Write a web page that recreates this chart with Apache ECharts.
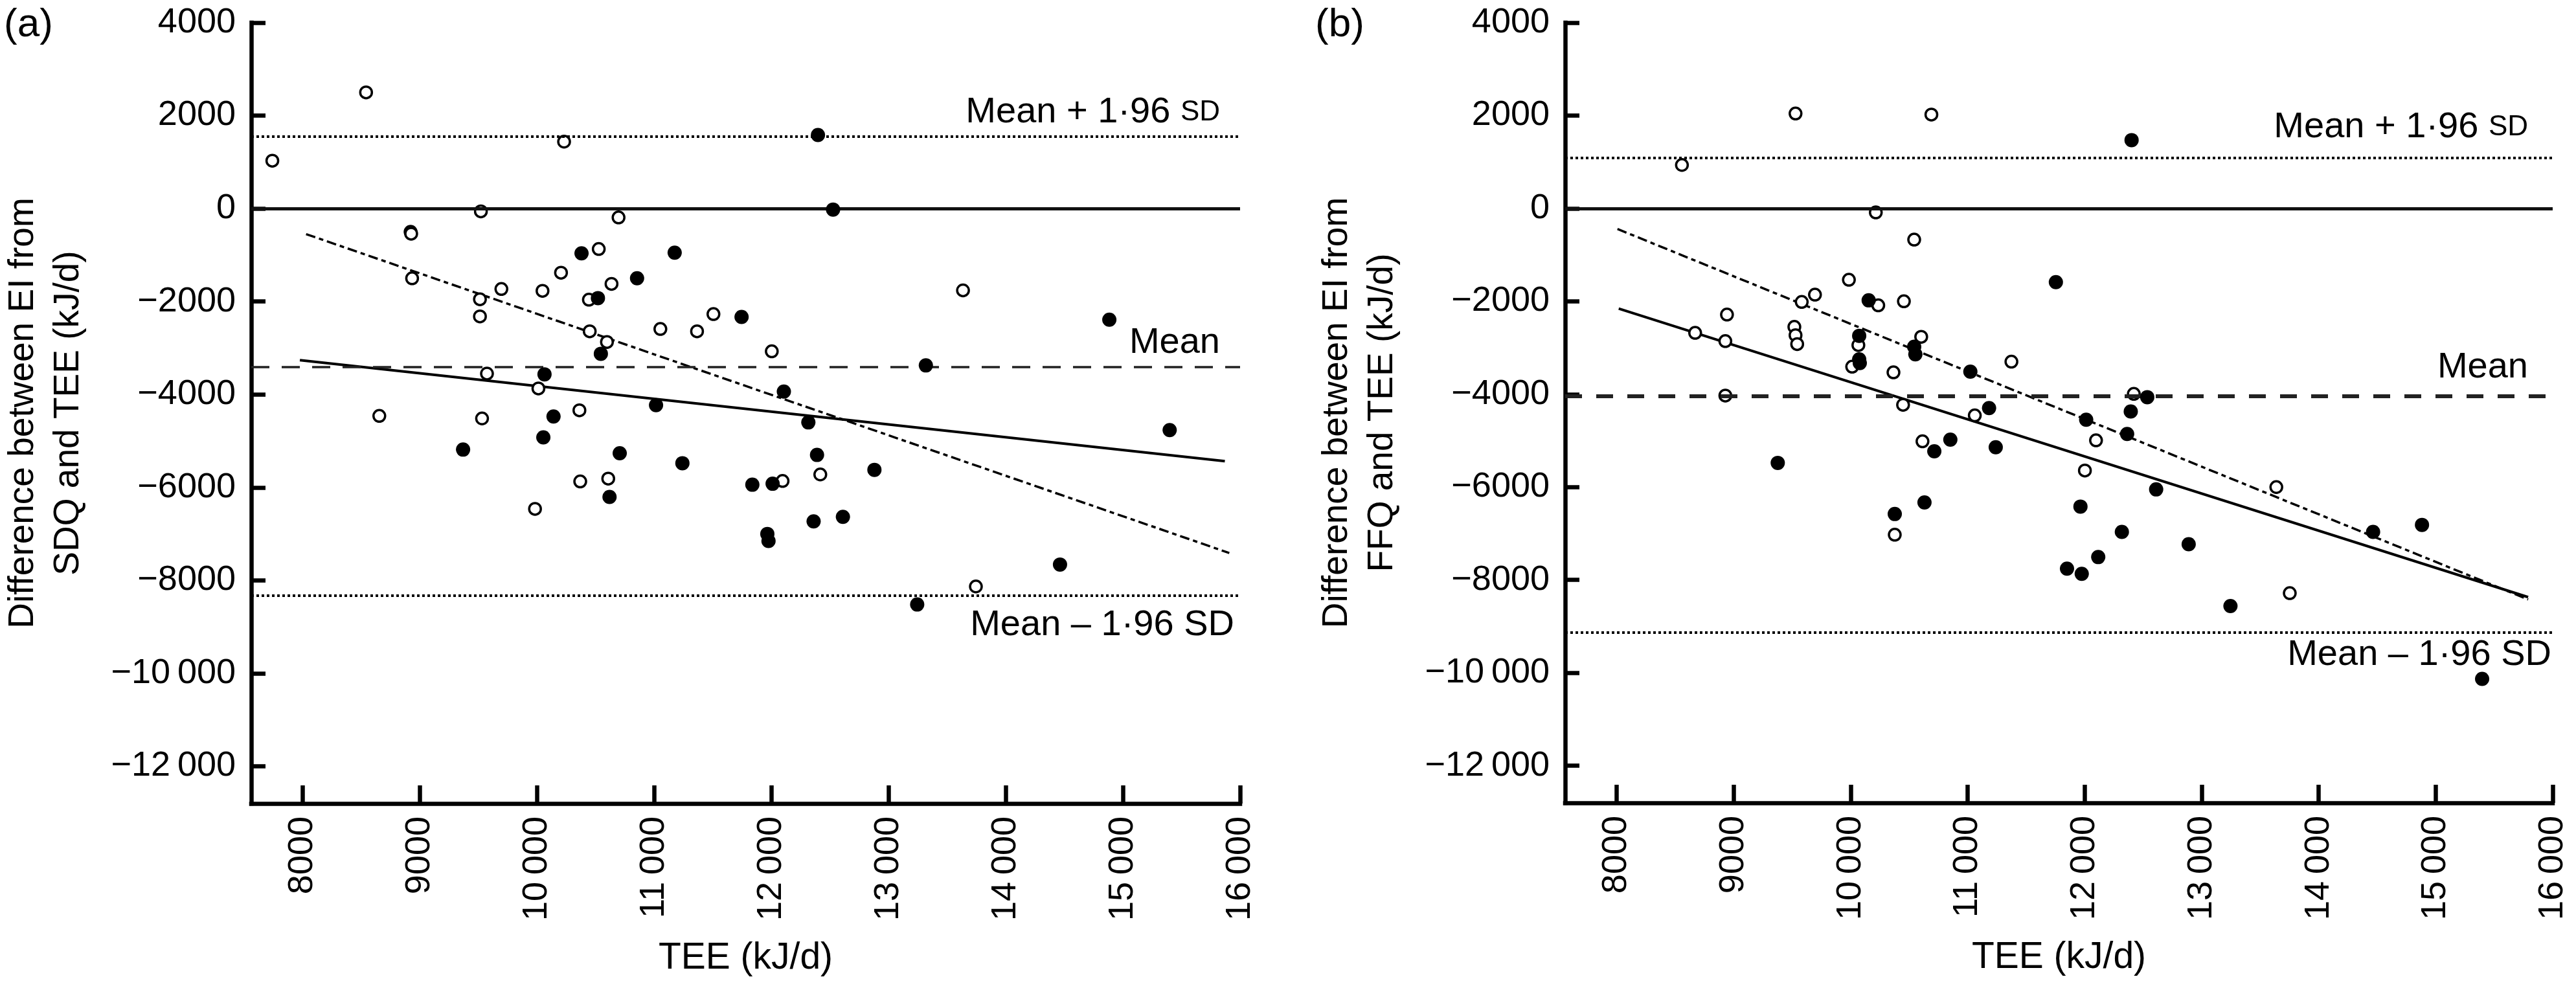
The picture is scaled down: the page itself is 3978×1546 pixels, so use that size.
<!DOCTYPE html>
<html><head><meta charset="utf-8">
<script src="https://cdn.jsdelivr.net/npm/echarts@6/dist/echarts.min.js"></script>
<style>html,body{margin:0;padding:0;background:#fff}#c{width:3978px;height:1546px}</style>
</head><body><div id="c"></div>
<script>
// ---------- tick values / labels ----------
const xTickValues = [8000, 9000, 10000, 11000, 12000, 13000, 14000, 15000, 16000];
const xTickLabels = ['8000', '9000', '10\u2009000', '11\u2009000', '12\u2009000', '13\u2009000', '14\u2009000', '15\u2009000', '16\u2009000'];
const yTickValues = [4000, 2000, 0, -2000, -4000, -6000, -8000, -10000, -12000];
const yTickLabels = ['4000', '2000', '0', '\u22122000', '\u22124000', '\u22126000', '\u22128000', '\u221210\u2009000', '\u221212\u2009000'];

// ---------- panel (a): SDQ ----------
const aOpenTEE  = [8540, 7740, 10230, 9520, 10695, 8920, 8925, 8933, 9512, 9512, 9695, 10046, 10204, 10526, 10635, 10442, 10449, 10596, 9572, 10011, 8653, 9530, 10361, 10368, 10607, 9982, 11505, 11052, 11365, 12003, 13635, 12417, 12095, 13745];
const aOpenDiff = [2500, 1030, 1440, -60, -190, -500, -540, -1500, -1950, -2320, -1730, -1770, -1380, -870, -1620, -1960, -2640, -2870, -3550, -3870, -4460, -4515, -4340, -5870, -5810, -6460, -2270, -2590, -2640, -3070, -1760, -5720, -5860, -8130];
const aFilledTEE  = [10379, 10853, 10519, 10544, 10063, 10140, 10053, 9368, 10705, 10618, 12397, 12526, 11174, 11745, 14884, 13318, 12106, 11015, 12315, 15399, 11240, 12389, 12879, 11837, 12010, 11965, 11975, 12360, 12610, 14463, 13244];
const aFilledDiff = [-963, -1500, -1926, -3124, -3566, -4472, -4922, -5185, -5264, -6205, 1583, -21, -949, -2332, -2390, -3374, -3937, -4230, -4600, -4765, -5478, -5300, -5621, -5941, -5920, -7000, -7150, -6730, -6632, -7658, -8518];
const aRefLines = [1548, -3402, -8330];           // mean + 1.96 SD, mean, mean - 1.96 SD
const aFitSolid = [[7975, -3260], [15870, -5435]];
const aFitDash  = [[8028, -549], [15908, -7410]];

// ---------- panel (b): FFQ ----------
const bOpenTEE  = [8558, 9529, 10690, 10215, 10543, 8943, 8671, 8929, 8929, 9519, 9529, 9543, 9582, 9695, 9985, 10236, 10455, 10603, 10066, 10013, 10366, 10448, 10614, 10377, 11374, 12420, 11061, 12097, 12002, 13638, 13753];
const bOpenDiff = [936, 2043, 2021, -86, -671, -2286, -2679, -2857, -4029, -2550, -2729, -2921, -2014, -1857, -1536, -2086, -2000, -2764, -2943, -3407, -3529, -4229, -5014, -7025, -3300, -3993, -4457, -4993, -5643, -6000, -8284];
const bFilledTEE  = [10154, 10073, 10073, 10078, 10543, 10553, 9377, 10631, 10377, 12401, 11754, 11023, 12535, 12394, 11183, 12013, 12363, 10852, 10715, 11240, 12611, 11964, 12318, 12889, 12116, 11849, 11975, 14465, 14883, 13246, 15397];
const bFilledDiff = [-1979, -2743, -3250, -3330, -2979, -3143, -5479, -6330, -6580, 1471, -1586, -3514, -4064, -4371, -4300, -4550, -4857, -4979, -5229, -5143, -6050, -6420, -6965, -7229, -7507, -7756, -7869, -6965, -6814, -8563, -10131];
const bRefLines = [1093, -4040, -9135];
const bFitSolid = [[8018, -2157], [15790, -8370]];
const bFitDash  = [[8007, -443], [15790, -8420]];

const FONT = "'Liberation Sans', Arial, Helvetica, sans-serif";
const zip = (xs, ys) => xs.map((x, i) => [x, ys[i]]);

function xAxisFor(i) {
  return {
    type: 'value', gridIndex: i, min: 7560, max: 16000,
    axisLine: { onZero: false, lineStyle: { color: '#000', width: 6.5, cap: 'square' } },
    axisTick: { inside: true, length: 28, customValues: xTickValues, lineStyle: { color: '#000', width: 6.5 } },
    axisLabel: { customValues: xTickValues, rotate: 90, margin: 20, fontSize: 54, color: '#000', fontFamily: FONT,
      formatter: v => { const k = xTickValues.indexOf(v); return k < 0 ? '' : xTickLabels[k]; } },
    splitLine: { show: false },
    name: 'TEE (kJ/d)', nameLocation: 'middle', nameGap: 211,
    nameTextStyle: { fontSize: 57, color: '#000', fontFamily: FONT }
  };
}
function yAxisFor(i, title) {
  return {
    type: 'value', gridIndex: i, min: -12800, max: 4000,
    axisLine: { lineStyle: { color: '#000', width: 6.5, cap: 'square' } },
    axisTick: { inside: true, length: 22, customValues: yTickValues, lineStyle: { color: '#000', width: 6.5 } },
    axisLabel: { customValues: yTickValues, margin: 24, fontSize: 54, color: '#000', fontFamily: FONT,
      formatter: v => { const k = yTickValues.indexOf(v); return k < 0 ? '' : yTickLabels[k]; } },
    splitLine: { show: false },
    name: title, nameLocation: 'middle', nameGap: 247, nameRotate: 90,
    nameTextStyle: { fontSize: 55, lineHeight: 70, color: '#000', fontFamily: FONT, align: 'center' }
  };
}
function refMarkLine(ref, cfg) {
  const lbl = { show: true, color: '#000', fontSize: 56, fontFamily: FONT };
  return {
    silent: true, symbol: ['none', 'none'], animation: false,
    data: [
      { yAxis: 0, lineStyle: { type: 'solid', width: 5, color: '#111' }, label: { show: false } },
      { yAxis: ref[0], lineStyle: { type: [4, 4], width: 4, color: '#000' },
        label: Object.assign({}, lbl, { position: 'insideEndTop', distance: cfg.up,
          formatter: 'Mean + 1\u00b796 {s|SD}', rich: { s: { fontSize: 44, color: '#000', fontFamily: FONT } } }) },
      { yAxis: ref[1], lineStyle: { type: cfg.meanDash, width: cfg.meanWidth, color: '#222' },
        label: Object.assign({}, lbl, { position: 'insideEndTop', distance: cfg.mean, formatter: 'Mean' }) },
      { yAxis: ref[2], lineStyle: { type: [4, 4], width: 4, color: '#000' },
        label: Object.assign({}, lbl, { position: 'insideEndBottom', distance: cfg.low, formatter: 'Mean \u2013 1\u00b796 SD' }) }
    ]
  };
}
function panelSeries(i, openT, openD, fillT, fillD, ref, fitS, fitD, cfg) {
  return [
    { type: 'line', xAxisIndex: i, yAxisIndex: i, data: fitS, showSymbol: false, z: 2,
      lineStyle: { color: '#000', width: 4, type: 'solid' }, markLine: refMarkLine(ref, cfg) },
    { type: 'line', xAxisIndex: i, yAxisIndex: i, data: fitD, showSymbol: false, z: 2,
      lineStyle: { color: '#000', width: 3.5, type: [15, 6, 7, 6] } },
    { type: 'scatter', xAxisIndex: i, yAxisIndex: i, data: zip(openT, openD), symbol: 'circle', symbolSize: 18, z: 4,
      itemStyle: { color: '#fff', borderColor: '#000', borderWidth: 3.5, opacity: 1 } },
    { type: 'scatter', xAxisIndex: i, yAxisIndex: i, data: zip(fillT, fillD), symbol: 'circle', symbolSize: 22, z: 5,
      itemStyle: { color: '#000', opacity: 1 } }
  ];
}

const chart = echarts.init(document.getElementById('c'), null, { renderer: 'canvas' });
chart.setOption({
  animation: false,
  backgroundColor: '#fff',
  grid: [
    { left: 381, top: 35, width: 1534, height: 1206 },
    { left: 2417, top: 35, width: 1525, height: 1205 }
  ],
  xAxis: [xAxisFor(0), xAxisFor(1)],
  yAxis: [
    yAxisFor(0, 'Difference between EI from\nSDQ and TEE (kJ/d)'),
    yAxisFor(1, 'Difference between EI from\nFFQ and TEE (kJ/d)')
  ],
  graphic: [
    { type: 'text', left: 6, top: 8, style: { text: '(a)', fontSize: 62, fill: '#000', fontFamily: FONT } },
    { type: 'text', left: 2031, top: 8, style: { text: '(b)', fontSize: 62, fill: '#000', fontFamily: FONT } }
  ],
  series: [].concat(
    panelSeries(0, aOpenTEE, aOpenDiff, aFilledTEE, aFilledDiff, aRefLines, aFitSolid, aFitDash,
      { up: [31, 9], mean: [31, 9], low: [9, 17], meanDash: [28, 19], meanWidth: 3.5 }),
    panelSeries(1, bOpenTEE, bOpenDiff, bFilledTEE, bFilledDiff, bRefLines, bFitSolid, bFitDash,
      { up: [38, 19], mean: [38, 16], low: [2, 6], meanDash: [26, 22], meanWidth: 6 })
  )
});
</script></body></html>
